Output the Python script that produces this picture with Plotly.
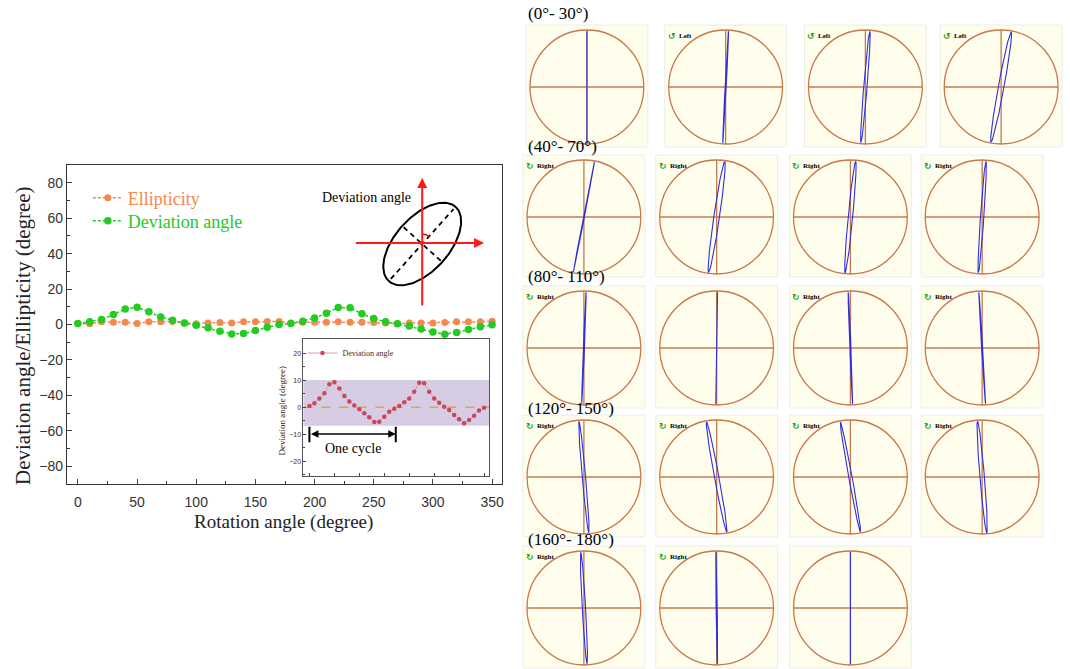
import numpy as np
import plotly.graph_objects as go

# ---------------- data ----------------
angles = list(range(0, 360, 10))
ellipticity = [0.5, 0.4, 1.5, 1.3, 1.3, 0.6, 1.5, 1.5, 1.7, 0.9, 0.4, 0.9, 1.1, 0.8, 1.5, 1.5, 1.7, 1.7,
               0.8, 1.3, 1.3, 1.3, 1.5, 1.3, 1.3, 1.1, 0.9, 0.6, 0.8, 0.9, 0.9, 1.1, 1.5, 1.5, 1.5, 1.9]
deviation = [0.5, 1.5, 2.8, 5.6, 8.8, 9.8, 7.2, 4.3, 2.4, 0.9, -0.4, -1.9, -3.8, -5.3, -5.1, -3.4, -1.5, 0.0,
             0.5, 1.9, 3.6, 6.4, 9.6, 9.4, 6.0, 3.4, 1.5, 0.4, -0.9, -2.6, -4.3, -5.5, -4.5, -2.8, -1.3, -0.2]
inset_deviation = [0.5, 1.5, 3.3, 5.2, 8.6, 9.3, 7.0, 4.2, 2.2, 0.7, -0.7, -2.2, -3.7, -5.4, -5.3, -3.5, -1.6, -0.5,
                   0.5, 1.9, 3.3, 5.8, 9.1, 8.9, 5.8, 3.3, 1.7, 0.2, -1.0, -2.8, -4.4, -5.9, -4.7, -3.1, -1.2, -0.1]
band_low, band_high = -6.8, 10.1
cycle_start, cycle_end = 0, 173

x_ticks = [0, 50, 100, 150, 200, 250, 300, 350]
y_ticks = [-80, -60, -40, -20, 0, 20, 40, 60, 80]
inset_y_ticks = [-20, -10, 0, 10, 20]

# polarization-state snapshots (right panel)
panel_angles = [0, 10, 20, 30, 40, 50, 60, 70, 80, 90, 100, 110, 120, 130, 140, 150, 160, 170, 180]
panel_tilt = [0, 2.9, 4.6, 10.4, 10.8, 8.3, 5.4, 3.9, 2.2, 0.9, -2.3, -3.5, -5.1, -10.5, -10.4, -4.8, -3.3, -0.9, 0]
panel_ratio = [0, 0.01, 0.03, 0.05, 0.008, 0.05, 0.04, 0.03, 0.01, 0.0, 0.01, 0.01, 0.03, 0.04, 0.03, 0.04, 0.03, 0.01, 0.0]
panel_hand = ["", "Left", "Left", "Left", "Right", "Right", "Right", "Right", "Right", "", "Right", "Right",
              "Right", "Right", "Right", "Right", "Right", "Right", ""]
row_labels = ["(0°- 30°)", "(40°- 70°)", "(80°- 110°)", "(120°- 150°)", "(160°- 180°)"]

# schematic ellipse parameters
diagram_tilt_deg = 42
diagram_semi_major = 50
diagram_semi_minor = 27

# ---------------- style / layout ----------------
W, H = 1070, 669
ORANGE = "#F5884F"
GREEN = "#22CC22"
SERIF = "Liberation Serif"
SANS = "Liberation Sans"
BROWN = "#C8784E"
BLUE = "#2E2EE0"


def px(x):
    return x / W


def py(y):
    return 1 - y / H


fig = go.Figure()

# main series
fig.add_trace(go.Scatter(x=angles, y=ellipticity, mode="lines+markers", name="Ellipticity",
                         line=dict(color=ORANGE, width=1.5, dash="3px,2px"),
                         marker=dict(size=7, color=ORANGE), legend="legend", xaxis="x", yaxis="y"))
fig.add_trace(go.Scatter(x=angles, y=deviation, mode="lines+markers", name="Deviation angle",
                         line=dict(color=GREEN, width=1.5, dash="3px,2px"),
                         marker=dict(size=7.5, color=GREEN), legend="legend2", xaxis="x", yaxis="y"))
# inset series
fig.add_trace(go.Scatter(x=angles, y=inset_deviation, mode="lines+markers", name="Deviation angle",
                         line=dict(color="#E59AA4", width=1),
                         marker=dict(size=4.5, color="#C9485B"), legend="legend3", xaxis="x2", yaxis="y2"))

shapes = []
annotations = []


def ptext(x, y, text, size, family=SERIF, color="#222", angle=0, xanchor="center"):
    annotations.append(dict(xref="paper", yref="paper", x=px(x), y=py(y), text=text, textangle=angle,
                            xanchor=xanchor, yanchor="middle", showarrow=False,
                            font=dict(family=family, size=size, color=color)))


# inset band + zero line
shapes.append(dict(type="rect", xref="x2 domain", yref="y2", x0=0, x1=1, y0=band_low, y1=band_high,
                   fillcolor="#D6CCE3", line=dict(width=0), layer="below"))
shapes.append(dict(type="line", xref="x2 domain", yref="y2", x0=0, x1=1, y0=0, y1=0,
                   line=dict(color="#E9A23B", width=1.5, dash="dash"), layer="below"))
for xc in (cycle_start, cycle_end):
    shapes.append(dict(type="line", xref="x2", yref="y2", x0=xc, x1=xc, y0=-7.2, y1=-12.9,
                       line=dict(color="black", width=2)))
annotations.append(dict(xref="x2", yref="y2", axref="x2", ayref="y2", x=cycle_end, y=-9.9,
                        ax=cycle_start, ay=-9.9, text="", showarrow=True, arrowhead=2, arrowside="end+start",
                        arrowwidth=1.5, arrowsize=1, arrowcolor="black"))
annotations.append(dict(xref="x2", yref="y2", x=(cycle_start + cycle_end) / 2, y=-15.2, text="One cycle",
                        xanchor="center", yanchor="middle", showarrow=False,
                        font=dict(family=SERIF, size=14, color="black")))
ptext(283, 411, "Deviation angle (degree)", 9, angle=-90)

# axis titles of main plot
ptext(23, 335, "Deviation angle/Ellipticity (degree)", 21, angle=-90)
ptext(284, 522, "Rotation angle (degree)", 19)

# ---------------- schematic (pixel-coordinate axis x3/y3) ----------------
cx0, cy0 = 423, 244
th = np.radians(diagram_tilt_deg)
u = np.array([np.sin(th), -np.cos(th)])   # major direction (screen, y down)
v = np.array([np.cos(th), np.sin(th)])    # minor direction
t = np.linspace(0, 2 * np.pi, 200)
ex = cx0 + diagram_semi_major * np.cos(t) * u[0] + diagram_semi_minor * np.sin(t) * v[0]
ey = cy0 + diagram_semi_major * np.cos(t) * u[1] + diagram_semi_minor * np.sin(t) * v[1]
fig.add_trace(go.Scatter(x=ex, y=ey, mode="lines", line=dict(color="black", width=2),
                         showlegend=False, hoverinfo="skip", xaxis="x3", yaxis="y3"))
ma = diagram_semi_major - 3
mi = diagram_semi_minor - 2
fig.add_trace(go.Scatter(x=[cx0 - ma * u[0], cx0 + ma * u[0]], y=[cy0 - ma * u[1], cy0 + ma * u[1]],
                         mode="lines", line=dict(color="black", width=1.8, dash="5px,4px"),
                         showlegend=False, hoverinfo="skip", xaxis="x3", yaxis="y3"))
fig.add_trace(go.Scatter(x=[cx0 - mi * v[0], cx0 + mi * v[0]], y=[cy0 - mi * v[1], cy0 + mi * v[1]],
                         mode="lines", line=dict(color="black", width=1.8, dash="5px,4px"),
                         showlegend=False, hoverinfo="skip", xaxis="x3", yaxis="y3"))
phi = np.linspace(0, th, 20)
fig.add_trace(go.Scatter(x=cx0 + 10 * np.sin(phi), y=cy0 - 10 * np.cos(phi), mode="lines",
                         line=dict(color="red", width=1.5), showlegend=False, hoverinfo="skip",
                         xaxis="x3", yaxis="y3"))
annotations.append(dict(xref="x3", yref="y3", axref="x3", ayref="y3", x=cx0, y=178, ax=cx0, ay=307,
                        text="", showarrow=True, arrowhead=2, arrowwidth=2, arrowsize=1, arrowcolor="#FF1A1A"))
annotations.append(dict(xref="x3", yref="y3", axref="x3", ayref="y3", x=485, y=cy0 - 1, ax=355, ay=cy0 - 1,
                        text="", showarrow=True, arrowhead=2, arrowwidth=2, arrowsize=1, arrowcolor="#FF1A1A"))
ptext(367, 198, "Deviation angle", 14, color="black")

layout = dict(
    width=W, height=H, autosize=False,
    margin=dict(l=0, r=0, t=0, b=0),
    paper_bgcolor="white", plot_bgcolor="rgba(0,0,0,0)",
    xaxis=dict(domain=[px(67), px(503)], range=[-9.3, 358.4], tickvals=x_ticks, ticks="inside", ticklen=5,
               minor=dict(dtick=25, tick0=0, ticks="inside", ticklen=3, tickcolor="#333"),
               showline=True, linecolor="#333", linewidth=1.2, mirror=True, showgrid=False, zeroline=False,
               tickfont=dict(family=SANS, size=14, color="#333"), ticklabelstandoff=5, anchor="y"),
    yaxis=dict(domain=[py(484), py(165)], range=[-90, 90], tickvals=y_ticks, ticks="inside", ticklen=5,
               minor=dict(dtick=10, tick0=0, ticks="inside", ticklen=3, tickcolor="#333"),
               showline=True, linecolor="#333", linewidth=1.2, mirror=True, showgrid=False, zeroline=False,
               tickfont=dict(family=SANS, size=14, color="#333"), anchor="x"),
    xaxis2=dict(domain=[px(304), px(490)], range=[-12, 360], dtick=50, tick0=0, ticks="inside", ticklen=3,
                showticklabels=False, showline=True, linecolor="#555", linewidth=0.8, mirror=True,
                showgrid=False, zeroline=False, anchor="y2"),
    yaxis2=dict(domain=[py(476), py(339)], range=[-25.4, 25.3], tickvals=inset_y_ticks, ticks="inside",
                ticklen=3, minor=dict(dtick=5, tick0=0, ticks="inside", ticklen=2),
                showline=True, linecolor="#555", linewidth=0.8, mirror=True, showgrid=False, zeroline=False,
                tickfont=dict(family=SANS, size=7, color="#333"), anchor="x2"),
    xaxis3=dict(domain=[px(300), px(500)], range=[300, 500], visible=False, anchor="y3"),
    yaxis3=dict(domain=[py(320), py(170)], range=[320, 170], visible=False, anchor="x3"),
    legend=dict(x=px(88), y=py(198), xanchor="left", yanchor="middle", bgcolor="rgba(0,0,0,0)",
                font=dict(family=SERIF, size=18, color=ORANGE), itemwidth=30),
    legend2=dict(x=px(88), y=py(221), xanchor="left", yanchor="middle", bgcolor="rgba(0,0,0,0)",
                 font=dict(family=SERIF, size=18, color=GREEN), itemwidth=30),
    legend3=dict(x=px(303), y=py(353), xanchor="left", yanchor="middle", bgcolor="rgba(0,0,0,0)",
                 font=dict(family=SERIF, size=8, color="#333"), itemwidth=30),
)

# ---------------- right panel: polarization snapshots ----------------
R = 57
row_centers_y = [87, 217, 348, 477, 608]
row_label_y = [14, 146, 277, 408, 539]
col_x_row1 = [588, 727, 867, 1003]
col_x_rest = [585, 718, 852, 984]

for r, lab in enumerate(row_labels):
    ptext(527, row_label_y[r], lab, 17, color="black", xanchor="left")

for i, ang in enumerate(panel_angles):
    row, col = divmod(i, 4)
    cx = (col_x_row1 if row == 0 else col_x_rest)[col]
    cy = row_centers_y[row]
    n = i + 4
    xa, ya = f"x{n}", f"y{n}"
    layout[f"xaxis{n}"] = dict(domain=[px(cx - 61), px(cx + 61)], range=[-61 / R, 61 / R],
                               visible=False, anchor=ya, fixedrange=True)
    layout[f"yaxis{n}"] = dict(domain=[py(cy + 60), py(cy - 62)], range=[-60 / R, 62 / R],
                               visible=False, anchor=xa, fixedrange=True)
    shapes.append(dict(type="rect", xref=f"{xa} domain", yref=f"{ya} domain", x0=0, x1=1, y0=0, y1=1,
                       fillcolor="#FFFEEC", line=dict(color="#ECECEC", width=1), layer="below"))
    shapes.append(dict(type="circle", xref=xa, yref=ya, x0=-1, x1=1, y0=-1, y1=1,
                       line=dict(color=BROWN, width=1.3), layer="below"))
    shapes.append(dict(type="line", xref=xa, yref=ya, x0=-1, x1=1, y0=0, y1=0,
                       line=dict(color=BROWN, width=1.3), layer="below"))
    shapes.append(dict(type="line", xref=xa, yref=ya, x0=0, x1=0, y0=-1, y1=1,
                       line=dict(color=BROWN, width=1.3), layer="below"))
    tt = np.radians(panel_tilt[i])
    s = np.linspace(0, 2 * np.pi, 160)
    a, b = 0.98, panel_ratio[i]
    bx = a * np.cos(s) * np.sin(tt) + b * np.sin(s) * np.cos(tt)
    by = a * np.cos(s) * np.cos(tt) - b * np.sin(s) * np.sin(tt)
    fig.add_trace(go.Scatter(x=bx, y=by, mode="lines", line=dict(color=BLUE, width=1.1),
                             showlegend=False, hoverinfo="skip", xaxis=xa, yaxis=ya))
    if panel_hand[i]:
        icon = "↺" if panel_hand[i] == "Left" else "↻"
        annotations.append(dict(xref=xa, yref=ya, x=-0.95, y=0.9, text=f"<b>{icon}</b>", showarrow=False,
                                xanchor="center", yanchor="middle",
                                font=dict(family="DejaVu Sans", size=9, color="#1E9E1E")))
        annotations.append(dict(xref=xa, yref=ya, x=-0.86, y=0.9, xanchor="left", yanchor="middle",
                                text=f"<b>{panel_hand[i]}</b>",
                                showarrow=False, font=dict(family=SERIF, size=7, color="black")))

layout["shapes"] = shapes
layout["annotations"] = annotations
fig.update_layout(**layout)

fig.write_html("out.html", config={"displayModeBar": False},
               post_script="document.body.style.margin='0px';")
